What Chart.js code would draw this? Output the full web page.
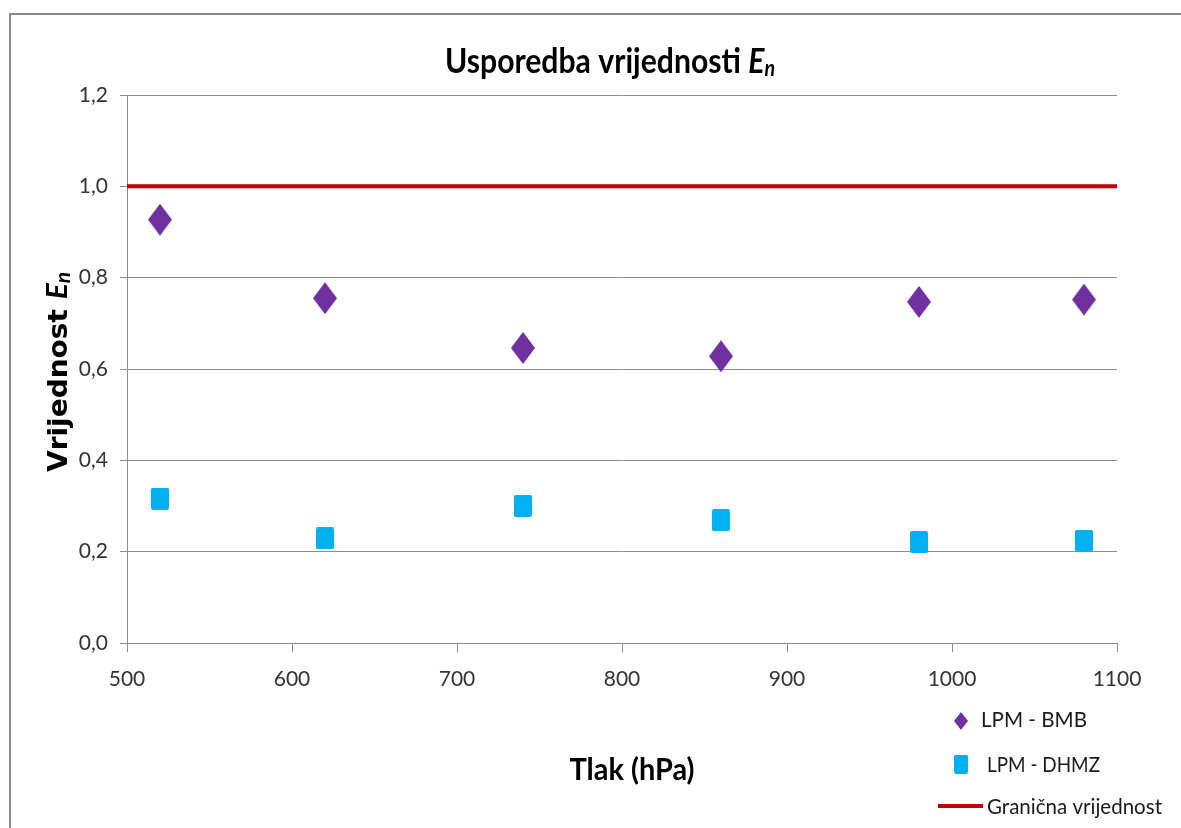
<!DOCTYPE html>
<html>
<head>
<meta charset="utf-8">
<title>Usporedba vrijednosti En</title>
<script src="https://cdn.jsdelivr.net/npm/chart.js@4.4.1/dist/chart.umd.min.js"></script>
<style>
  html, body { margin: 0; padding: 0; background: #fff; overflow: hidden; }
  canvas { display: block; }
</style>
</head>
<body>
<canvas id="chart" width="1181" height="828"></canvas>
<script>
// Data
const pressures = [520, 620, 740, 860, 980, 1080];
const bmbValues = [0.927, 0.755, 0.646, 0.628, 0.747, 0.752];
const dhmzValues = [0.316, 0.229, 0.300, 0.269, 0.221, 0.224];
const limitValue = 1.0;

// Axes
const xMin = 500, xMax = 1100, xStep = 100;
const yMin = 0, yMax = 1.2, yStep = 0.2;

// Labels
const seriesLabels = ['LPM - BMB', 'LPM - DHMZ', 'Granična vrijednost'];
const seriesColors = ['#7030A0', '#00B0F0', '#C00000'];

Chart.defaults.font.family = 'Lato';

// Marker images
function makeDiamond(w, h, color) {
    const c = document.createElement('canvas');
    c.width = w; c.height = h;
    const g = c.getContext('2d');
    g.fillStyle = color;
    g.beginPath();
    g.moveTo(w / 2, 0);
    g.lineTo(w, h / 2);
    g.lineTo(w / 2, h);
    g.lineTo(0, h / 2);
    g.closePath();
    g.fill();
    return c;
}

function makeBox(w, h, color) {
    const c = document.createElement('canvas');
    c.width = w; c.height = h;
    const g = c.getContext('2d');
    g.fillStyle = color;
    g.beginPath();
    g.roundRect(0, 0, w, h, 2);
    g.fill();
    return c;
}

// Draw a run of text pieces with different fonts, squeezed to a target width
function drawRich(ctx, parts, x, y, align, targetW) {
    let w = 0;
    parts.forEach(p => {
        ctx.font = p.font;
        p.w = ctx.measureText(p.t).width;
        w += p.w;
    });
    const sx = targetW ? targetW / w : 1;
    ctx.save();
    ctx.translate(x, y);
    ctx.scale(sx, 1);
    ctx.textAlign = 'left';
    ctx.textBaseline = 'alphabetic';
    let cx = align === 'center' ? -w / 2 : 0;
    parts.forEach(p => {
        ctx.font = p.font;
        ctx.fillText(p.t, cx, p.dy || 0);
        cx += p.w;
    });
    ctx.restore();
}

// Frame, titles and legend
const decorPlugin = {
    id: 'decor',
    beforeDraw(chart) {
        const ctx = chart.ctx;
        ctx.save();
        ctx.fillStyle = '#fff';
        ctx.fillRect(0, 0, chart.width, chart.height);
        ctx.strokeStyle = '#8a8a8a';
        ctx.lineWidth = 2;
        ctx.beginPath();
        ctx.moveTo(10, chart.height);
        ctx.lineTo(10, 14);
        ctx.lineTo(chart.width, 14);
        ctx.stroke();
        ctx.restore();
    },
    afterDraw(chart) {
        const ctx = chart.ctx;
        ctx.save();
        ctx.fillStyle = '#000';

        // Title
        drawRich(ctx, [
            { t: 'Usporedba vrijednosti ', font: 'bold 34px Lato' },
            { t: 'E', font: 'italic bold 34px Lato' },
            { t: 'n', font: 'italic bold 22px Lato', dy: 3 }
        ], 610, 73, 'center', 330);

        // X axis title
        drawRich(ctx, [{ t: 'Tlak (hPa)', font: 'bold 31px Lato' }], 632, 780, 'center', 125);

        // Y axis title
        ctx.save();
        ctx.translate(67, 372);
        ctx.rotate(-Math.PI / 2);
        drawRich(ctx, [
            { t: 'Vrijednost ', font: 'bold 27px "DejaVu Sans"' },
            { t: 'E', font: 'italic bold 29px Lato' },
            { t: 'n', font: 'italic bold 20px Lato', dy: 3 }
        ], 0, 0, 'center', 200);
        ctx.restore();

        // Legend
        ctx.fillStyle = '#1a1a1a';
        ctx.drawImage(legendDiamond, 961 - legendDiamond.width / 2, 721 - legendDiamond.height / 2);
        drawRich(ctx, [{ t: seriesLabels[0], font: '21px Lato' }], 981, 727, 'left', 106);

        ctx.drawImage(legendBox, 961 - legendBox.width / 2, 764 - legendBox.height / 2);
        drawRich(ctx, [{ t: seriesLabels[1], font: '21px Lato' }], 987, 772, 'left', 113);

        ctx.strokeStyle = seriesColors[2];
        ctx.lineWidth = 4;
        ctx.beginPath();
        ctx.moveTo(938, 806);
        ctx.lineTo(983, 806);
        ctx.stroke();
        drawRich(ctx, [{ t: seriesLabels[2], font: '21px Lato' }], 987, 814, 'left', 175);

        ctx.restore();
    }
};

const plotDiamond = makeDiamond(24, 32, seriesColors[0]);
const plotBox = makeBox(18, 22, seriesColors[1]);
const legendDiamond = makeDiamond(14, 18, seriesColors[0]);
const legendBox = makeBox(14, 19, seriesColors[1]);

const bmbPoints = pressures.map((p, i) => ({ x: p, y: bmbValues[i] }));
const dhmzPoints = pressures.map((p, i) => ({ x: p, y: dhmzValues[i] }));
const limitPoints = [{ x: xMin, y: limitValue }, { x: xMax, y: limitValue }];

const ctx = document.getElementById('chart').getContext('2d');
new Chart(ctx, {
    type: 'scatter',
    data: {
        datasets: [
            {
                label: seriesLabels[2],
                data: limitPoints,
                showLine: true,
                borderColor: seriesColors[2],
                borderWidth: 4,
                pointRadius: 0,
                fill: false
            },
            {
                label: seriesLabels[0],
                data: bmbPoints,
                pointStyle: plotDiamond,
                pointRadius: 12,
                backgroundColor: seriesColors[0],
                borderColor: seriesColors[0]
            },
            {
                label: seriesLabels[1],
                data: dhmzPoints,
                pointStyle: plotBox,
                pointRadius: 10,
                backgroundColor: seriesColors[1],
                borderColor: seriesColors[1]
            }
        ]
    },
    options: {
        responsive: false,
        animation: false,
        layout: { padding: { top: 95, right: 64, left: 0, bottom: 0 } },
        plugins: {
            legend: { display: false },
            tooltip: { enabled: false },
            title: { display: false }
        },
        scales: {
            x: {
                type: 'linear',
                min: xMin,
                max: xMax,
                ticks: {
                    stepSize: xStep,
                    color: '#333',
                    font: { size: 21 },
                    padding: 15,
                    maxRotation: 0,
                    callback: v => String(v)
                },
                grid: {
                    drawOnChartArea: false,
                    drawTicks: true,
                    tickLength: 9,
                    color: '#8c8c8c'
                },
                border: { color: '#8c8c8c' },
                afterFit(scale) { scale.height = 185; }
            },
            y: {
                min: yMin,
                max: yMax,
                ticks: {
                    stepSize: yStep,
                    color: '#333',
                    font: { size: 21 },
                    padding: 12,
                    callback: v => v.toFixed(1).replace('.', ',')
                },
                grid: {
                    color: '#8c8c8c',
                    tickLength: 7
                },
                border: { color: '#8c8c8c' },
                afterFit(scale) { scale.width = 127; }
            }
        }
    },
    plugins: [decorPlugin]
});
</script>
</body>
</html>
